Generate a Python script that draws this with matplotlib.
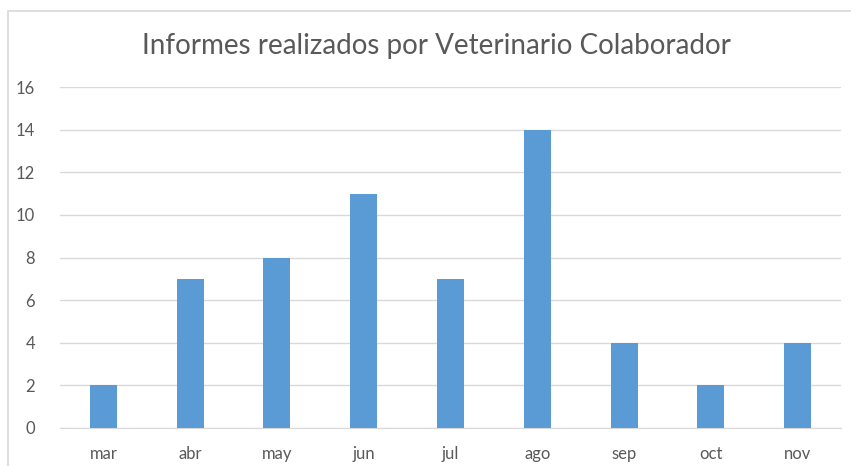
import matplotlib.pyplot as plt
from matplotlib.patches import Rectangle

# Data
meses = ['mar', 'abr', 'may', 'jun', 'jul', 'ago', 'sep', 'oct', 'nov']
informes = [2, 7, 8, 11, 7, 14, 4, 2, 4]

plt.rcParams['font.family'] = ['Lato', 'DejaVu Sans']

W, H = 851, 466
fig = plt.figure(figsize=(W / 100, H / 100), dpi=100)
fig.patch.set_facecolor('white')

# chart border (Excel style)
fig.patches.append(Rectangle((7.5 / W, -0.05), 2, 1 - 10.5 / H + 0.05,
                             transform=fig.transFigure, fill=False,
                             edgecolor='#d9d9d9', linewidth=1.2))

ax = fig.add_axes([60 / W, 1 - 428 / H, 781 / W, (428 - 87) / H])
ax.bar(range(len(meses)), informes, width=0.31, color='#5b9bd5', zorder=3)

ax.set_xlim(-0.5, len(meses) - 0.5)
ax.set_ylim(0, 16)
ax.set_yticks(range(0, 17, 2))
ax.set_xticks(range(len(meses)))
ax.set_xticklabels(meses)
ax.grid(axis='y', color='#d9d9d9', linewidth=1, zorder=0)
for s in ['top', 'right', 'left']:
    ax.spines[s].set_visible(False)
ax.spines['bottom'].set_color('#d9d9d9')
ax.tick_params(length=0, labelsize=12, colors='#595959')
ax.tick_params(axis='y', pad=18)
ax.tick_params(axis='x', pad=13)

fig.text(436 / W, 1 - 46 / H, 'Informes realizados por Veterinario Colaborador',
         ha='center', va='center', fontsize=20, color='#595959')

fig.savefig('out.png', dpi=100)
